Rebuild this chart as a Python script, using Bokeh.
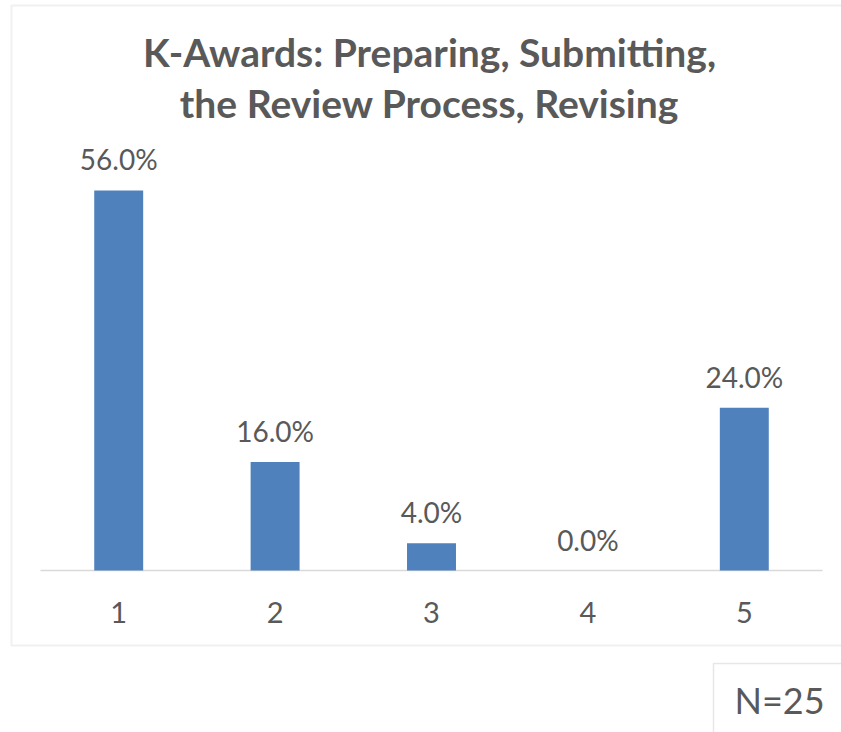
from bokeh.plotting import figure
from bokeh.models import ColumnDataSource, Range1d, LabelSet, Label, BoxAnnotation
from bokeh.core.properties import value
from bokeh.embed import file_html
from bokeh.resources import INLINE

categories = ["1", "2", "3", "4", "5"]
percent_values = [56.0, 16.0, 4.0, 0.0, 24.0]
value_labels = ["56.0%", "16.0%", "4.0%", "0.0%", "24.0%"]
title_lines = ["K-Awards: Preparing, Submitting,", "the Review Process, Revising"]
note_text = "N=25"

FONT = "Lato"
TXT = "#595959"
W, H = 841, 732
PX_PER_CAT = 156.4      # pixels per category slot
PX_PER_PCT = 6.786      # pixels per percentage point
AXIS_Y = 570            # pixel row of the category axis
PLOT_LEFT = 40          # pixel column where the category axis starts

xpos = [i + 1 for i in range(len(categories))]
src = ColumnDataSource(dict(x=xpos, cat=categories, val=percent_values, lab=value_labels,
                            zero=[0.0] * len(categories)))

x0 = 0.5 - PLOT_LEFT / PX_PER_CAT
x1 = x0 + W / PX_PER_CAT
y1 = AXIS_Y / PX_PER_PCT
y0 = -(H - AXIS_Y) / PX_PER_PCT

p = figure(width=W, height=H, x_range=Range1d(x0, x1), y_range=Range1d(y0, y1),
           output_backend="svg", toolbar_location=None,
           x_axis_location=None, y_axis_location=None, min_border=0)
p.outline_line_color = None
p.grid.visible = False
p.background_fill_color = "white"
p.border_fill_color = "white"

# category axis line
p.segment(x0=[0.5], y0=[0], x1=[len(categories) + 0.5], y1=[0],
          line_color="#D9D9D9", line_width=1.5)

p.vbar(x="x", top="val", width=0.313, source=src, fill_color="#4F81BD", line_color=None)

# category tick labels
p.add_layout(LabelSet(x="x", y="zero", text="cat", source=src, y_offset=-52,
                      text_align="center", text_baseline="alphabetic",
                      text_font=value(FONT), text_font_size="29px", text_color=TXT))

# data labels
p.add_layout(LabelSet(x="x", y="val", text="lab", source=src, y_offset=20,
                      text_align="center", text_baseline="alphabetic",
                      text_font=value(FONT), text_font_size="28px", text_color=TXT))

for i, line in enumerate(title_lines):
    p.add_layout(Label(x=429, y=51 + 51 * i, x_units="canvas", y_units="canvas", text=line,
                       text_align="center", text_baseline="alphabetic", text_font=FONT,
                       text_font_style="bold", text_font_size="39px", text_color=TXT))

p.add_layout(BoxAnnotation(left=11, right=900, top=5, bottom=645,
                           left_units="canvas", right_units="canvas",
                           top_units="canvas", bottom_units="canvas",
                           fill_alpha=0, line_color="#CCCCCC", line_width=2))
p.add_layout(BoxAnnotation(left=713, right=900, top=663, bottom=800,
                           left_units="canvas", right_units="canvas",
                           top_units="canvas", bottom_units="canvas",
                           fill_alpha=0, line_color="#AFAFAF", line_width=1.5))
p.add_layout(Label(x=734, y=699, x_units="canvas", y_units="canvas", text=note_text,
                   text_align="left", text_baseline="alphabetic", text_font=FONT,
                   text_font_size="36px", text_color=TXT))

open("out.html", "w").write(file_html(p, INLINE))
